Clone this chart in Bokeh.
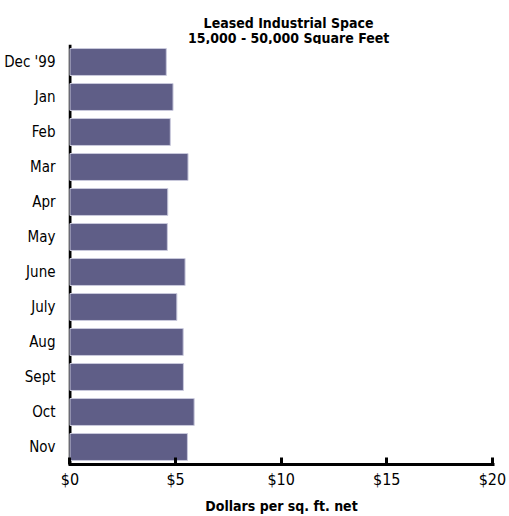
from bokeh.plotting import figure
from bokeh.layouts import column
from bokeh.models import Range1d, FactorRange, Span, FixedTicker
from bokeh.core.properties import value
from bokeh.embed import file_html
from bokeh.resources import INLINE

categories = ["Dec '99", "Jan", "Feb", "Mar", "Apr", "May", "June", "July", "Aug", "Sept", "Oct", "Nov"]
values = [4.56, 4.88, 4.75, 5.59, 4.63, 4.61, 5.45, 5.06, 5.36, 5.37, 5.88, 5.56]
x_ticks = [0, 5, 10, 15, 20]
x_tick_labels = {0: "$0", 5: "$5", 10: "$10", 15: "$15", 20: "$20"}
title_lines = ["Leased Industrial Space", "15,000 - 50,000 Square Feet"]

FONT = "DejaVu Sans Condensed"
W = 509
TITLE_H = 44

# --- title strip (pixel-based ranges) ---
t = figure(width=W, height=TITLE_H, output_backend="svg", toolbar_location=None,
           x_range=Range1d(0, W), y_range=Range1d(0, TITLE_H),
           min_border=0, min_border_left=0, min_border_right=0,
           min_border_top=0, min_border_bottom=0)
t.axis.visible = False
t.grid.visible = False
t.outline_line_color = None
t.background_fill_color = "white"
t.border_fill_color = "white"
t.text(x=[263, 263], y=[TITLE_H - 22, TITLE_H - 37], text=title_lines,
       text_align="center", text_baseline="alphabetic",
       text_font=value(FONT), text_font_size="14px", text_font_style="bold",
       text_color="black")

# --- main chart ---
p = figure(width=W, height=516 - TITLE_H, output_backend="svg", toolbar_location=None,
           y_range=FactorRange(factors=list(reversed(categories))),
           x_range=Range1d(-0.07, 20.1),
           min_border_left=68, min_border_right=15, min_border_top=0, min_border_bottom=50)

p.outline_line_color = None
p.grid.grid_line_color = None
p.background_fill_color = "white"
p.border_fill_color = "white"

# y axis line drawn under the bars
p.add_layout(Span(location=0, dimension="height", line_color="black", line_width=3, level="underlay"))

p.hbar(y=categories, right=values, left=0, height=0.77,
       fill_color="#5f5e87", line_color="#c9c9dc", line_width=1)

xa = p.xaxis[0]
xa.ticker = FixedTicker(ticks=x_ticks)
xa.major_label_overrides = x_tick_labels
xa.axis_line_width = 3
xa.axis_line_color = "black"
xa.major_tick_in = 7
xa.major_tick_out = 0
xa.major_tick_line_width = 3
xa.major_tick_line_color = "black"
xa.minor_tick_line_color = None
xa.major_label_text_font = FONT
xa.major_label_text_font_size = "16px"
xa.major_label_text_color = "black"
xa.major_label_standoff = 5
xa.axis_label = "Dollars per sq. ft. net"
xa.axis_label_text_font = FONT
xa.axis_label_text_font_size = "14px"
xa.axis_label_text_font_style = "bold"
xa.axis_label_text_color = "black"
xa.axis_label_standoff = 6

ya = p.yaxis[0]
ya.axis_line_color = None
ya.major_tick_line_color = None
ya.minor_tick_line_color = None
ya.major_label_text_font = FONT
ya.major_label_text_font_size = "15px"
ya.major_label_text_color = "black"
ya.major_label_standoff = 7

layout = column(t, p, spacing=0)
open("out.html", "w").write(file_html(layout, INLINE))
